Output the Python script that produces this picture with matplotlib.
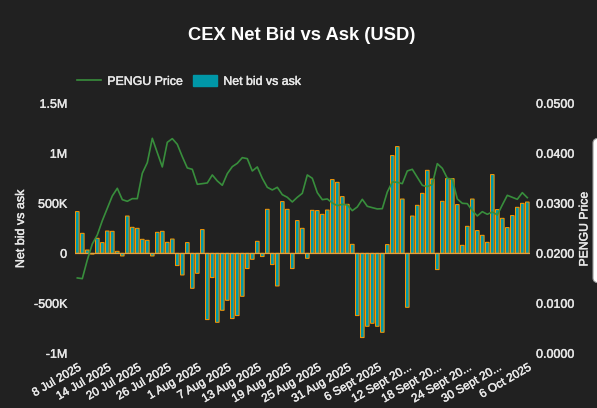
import numpy as np
import pandas as pd
import matplotlib.pyplot as plt
import matplotlib.patheffects as pe
from matplotlib.patches import FancyBboxPatch, Patch
from matplotlib.lines import Line2D
from matplotlib.ticker import FixedLocator, FixedFormatter

plt.rcParams["font.family"] = ["Liberation Sans", "DejaVu Sans"]

dates = pd.date_range("2025-07-08", "2025-10-06", freq="D")

net_bid_ask = [
    417, 200, 33, -8, 150, 107, 223, 220, 20, -27, 373, 260, 250, 140, 130, -27,
    210, 220, 110, 143, -123, -217, 107, -350, -200, 237, -663, -243, -690, -570,
    -470, -653, -623, -430, -153, -60, 120, -33, 440, -113, -327, 517, 440, -153,
    327, 250, -50, 430, 427, 390, 433, 737, 710, 567, 490, 90, -623, -843, -730,
    -700, -730, -790, 87, 977, 1067, 543, -540, 373, 480, 600, 830, 743, -163,
    520, 747, 747, 487, 80, 270, 543, 227, 180, 110, 787, 437, 350, 257, 377, 460,
    500, 513,
]

pengu_price = [
    0.01507, 0.01493, 0.01867, 0.02187, 0.02367, 0.02653, 0.02900, 0.03147, 0.03300,
    0.03073, 0.03040, 0.03093, 0.03093, 0.03600, 0.03813, 0.04300, 0.04013, 0.03727,
    0.04220, 0.04293, 0.04180, 0.03933, 0.03707, 0.03680, 0.03380, 0.03393, 0.03407,
    0.03567, 0.03447, 0.03360, 0.03593, 0.03733, 0.03800, 0.03913, 0.03893, 0.03647,
    0.03727, 0.03500, 0.03320, 0.03267, 0.03320, 0.03173, 0.03120, 0.03027, 0.03120,
    0.03200, 0.03567, 0.03500, 0.03213, 0.03073, 0.03087, 0.03007, 0.02953, 0.02980,
    0.02967, 0.02853, 0.02927, 0.03080, 0.02940, 0.02913, 0.02887, 0.02893, 0.03227,
    0.03427, 0.03420, 0.03393, 0.03647, 0.03680, 0.03520, 0.03360, 0.03333, 0.03380,
    0.03793, 0.03700, 0.03500, 0.03480, 0.03087, 0.03000, 0.02993, 0.02853, 0.02747,
    0.02833, 0.02780, 0.02827, 0.02767, 0.02967, 0.03160, 0.03120, 0.03080, 0.03213,
    0.03113,
]

left_ticks = [-1000, -500, 0, 500, 1000, 1500]
left_labels = ["-1M", "-500K", "0", "500K", "1M", "1.5M"]
right_ticks = [0.0, 0.01, 0.02, 0.03, 0.04, 0.05]
right_labels = ["0.0000", "0.0100", "0.0200", "0.0300", "0.0400", "0.0500"]
date_labels = [
    "8 Jul 2025", "14 Jul 2025", "20 Jul 2025", "26 Jul 2025", "1 Aug 2025",
    "7 Aug 2025", "13 Aug 2025", "19 Aug 2025", "25 Aug 2025", "31 Aug 2025",
    "6 Sept 2025", "12 Sept 20...", "18 Sept 20...", "24 Sept 20...",
    "30 Sept 20...", "6 Oct 2025",
]

BG = "#212121"
TEAL = "#0097a7"
ORANGE = "#ff9800"
GREEN = "#388e3c"
TEXT = "#e8e8e8"

W, H = 597, 408
fig = plt.figure(figsize=(W / 100, H / 100), dpi=100, facecolor=BG)
# plot area in pixels: x 74.8-529.8, y 103.3-353.3
ax = fig.add_axes([74.8 / W, 1 - 353.3 / H, 455 / W, 250 / H], facecolor=BG)

x = np.arange(len(dates))
ax.bar(x, net_bid_ask, width=0.72, color=TEAL, edgecolor=ORANGE, linewidth=0.7,
       zorder=2, snap=False)
ax.axhline(0, color="#e0a040", linewidth=0.9, zorder=3)
ax.set_xlim(-0.5, len(dates) - 0.5)
ax.set_ylim(-1000, 1500)

ax2 = ax.twinx()
ax2.plot(x, pengu_price, color=GREEN, linewidth=1.2, zorder=4)
ax2.set_ylim(0, 0.05)

for a in (ax, ax2):
    for spine in a.spines.values():
        spine.set_visible(False)

ax.yaxis.set_major_locator(FixedLocator(left_ticks))
ax.yaxis.set_major_formatter(FixedFormatter(left_labels))
ax.tick_params(axis="y", length=0, pad=5.5, labelsize=9, labelcolor=TEXT)
ax2.yaxis.set_major_locator(FixedLocator(right_ticks))
ax2.yaxis.set_major_formatter(FixedFormatter(right_labels))
ax2.tick_params(axis="y", length=0, pad=4.5, labelsize=9, labelcolor=TEXT)

ax.set_xticks(x[::6])
ax.set_xticklabels(date_labels, rotation=30, ha="right", rotation_mode="anchor",
                   fontsize=8.5, color=TEXT)
ax.tick_params(axis="x", length=0, pad=6)

ylabel_l = fig.text(21 / W, 1 - 228.5 / H, "Net bid vs ask", rotation=90, color=TEXT,
                    fontsize=9, ha="center", va="center")
ylabel_r = fig.text(584.5 / W, 1 - 229 / H, "PENGU Price", rotation=90, color=TEXT,
                    fontsize=8.8, ha="center", va="center")
fig.text(301.5 / W, 1 - 35.5 / H, "CEX Net Bid vs Ask (USD)", color="white", fontsize=13.2,
         fontweight="bold", ha="center", va="center")

handles = [
    Line2D([0], [0], color=GREEN, linewidth=1.2),
    Patch(facecolor=TEAL, edgecolor=TEAL),
]
leg = fig.legend(handles, ["PENGU Price", "Net bid vs ask"], loc="center left",
                 bbox_to_anchor=(77 / W, 1 - 81.5 / H), ncol=2, frameon=False, fontsize=8.9,
                 labelcolor=TEXT, handlelength=1.95, handleheight=1.0, handletextpad=0.5,
                 columnspacing=0.8, borderpad=0, borderaxespad=0)

# browser text in the reference renders a little heavier than agg
heavier = [pe.withStroke(linewidth=0.3, foreground=TEXT)]
texts = ax.get_xticklabels() + ax.get_yticklabels() + ax2.get_yticklabels() + leg.get_texts()
for t in texts + [ylabel_l, ylabel_r]:
    t.set_path_effects(heavier)

# white panel cut off at the right edge of the screenshot
fig.add_artist(FancyBboxPatch((593 / W, 1 - 283 / H), 20 / W, 145 / H,
                              boxstyle="round,pad=0,rounding_size=0.012",
                              transform=fig.transFigure, facecolor="white",
                              edgecolor="#9a9a9a", linewidth=0.8))

fig.savefig("out.png", dpi=100, facecolor=BG)
